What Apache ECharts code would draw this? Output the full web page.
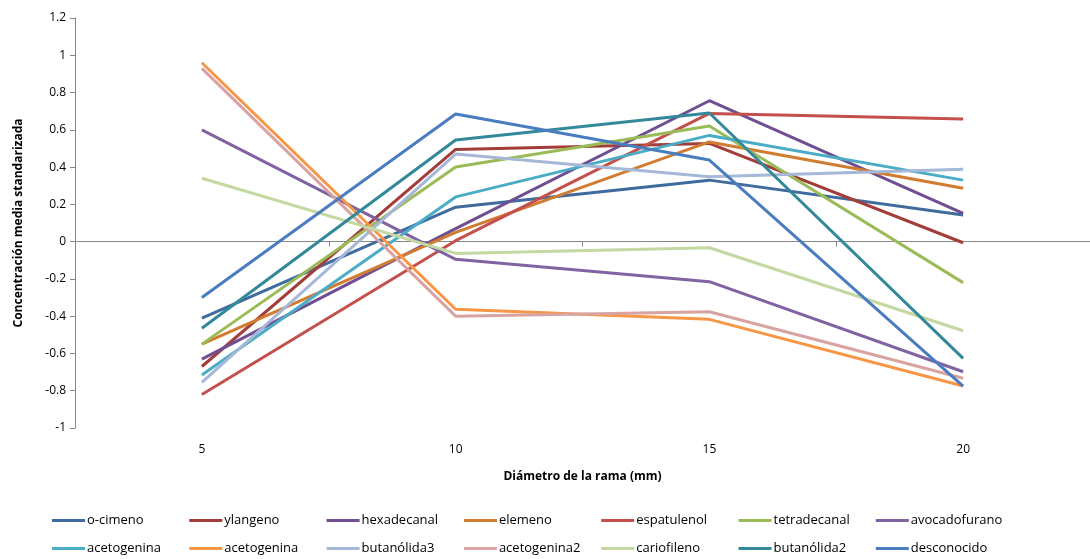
<!DOCTYPE html>
<html><head><meta charset="utf-8">
<script src="https://cdn.jsdelivr.net/npm/echarts@6/dist/echarts.min.js"></script>
<style>html,body{margin:0;padding:0;background:#fff}#c{width:1090px;height:559px}</style>
</head><body><div id="c"></div>
<script>
const categories = ['5', '10', '15', '20'];
const seriesNames = ['o-cimeno','ylangeno','hexadecanal','elemeno','espatulenol','tetradecanal','avocadofurano',
  'acetogenina','acetogenina ','butanólida3','acetogenina2','cariofileno','butanólida2','desconocido'];
const colors = ['#3F6B9E','#A33D3A','#6F4E91','#D27C32','#C4504D','#9BBB59','#8064A2',
  '#4BACC6','#F79646','#A5B8D8','#D8A3A1','#C4D8A2','#33899A','#4A7DC0'];
const oCimeno      = [-0.41, 0.185, 0.33, 0.143];
const ylangeno     = [-0.67, 0.495, 0.527, -0.006];
const hexadecanal  = [-0.63, 0.07, 0.756, 0.152];
const elemeno      = [-0.55, 0.05, 0.535, 0.286];
const espatulenol  = [-0.82, 0.005, 0.688, 0.658];
const tetradecanal = [-0.55, 0.40, 0.62, -0.22];
const avocadofurano= [0.60, -0.095, -0.215, -0.698];
const acetogenina  = [-0.716, 0.24, 0.57, 0.33];
const acetogeninaB = [0.96, -0.363, -0.417, -0.775];
const butanolida3  = [-0.755, 0.47, 0.348, 0.388];
const acetogenina2 = [0.93, -0.40, -0.376, -0.733];
const cariofileno  = [0.34, -0.063, -0.033, -0.478];
const butanolida2  = [-0.465, 0.545, 0.69, -0.626];
const desconocido  = [-0.30, 0.685, 0.438, -0.775];
const values = [oCimeno, ylangeno, hexadecanal, elemeno, espatulenol, tetradecanal, avocadofurano,
  acetogenina, acetogeninaB, butanolida3, acetogenina2, cariofileno, butanolida2, desconocido];
const yTicks = {min: -1, max: 1.2, interval: 0.2};

const font = 'Open Sans';
const chart = echarts.init(document.getElementById('c'));
const legends = seriesNames.map((n, i) => ({
  left: 52 + 137.3 * (i % 7), top: i < 7 ? 514 : 542,
  itemWidth: 33, itemHeight: 3, icon: 'rect', itemGap: 0, padding: 0,
  selectedMode: false, formatter: s => s.trim(), data: [n],
  textStyle: {fontFamily: font, fontSize: 13, color: '#000', padding: [0, 0, 0, -3]}
}));
chart.setOption({
  animation: false,
  color: colors,
  grid: {left: 75, top: 18, width: 1020, bottom: 131, containLabel: false},
  legend: legends,
  xAxis: [
    {type: 'category', data: categories, boundaryGap: true,
     axisLine: {onZero: true, lineStyle: {color: '#868686', width: 1}},
     axisTick: {show: true, length: 5, inside: false, lineStyle: {color: '#868686'}},
     axisLabel: {show: false}},
    {type: 'category', data: categories, boundaryGap: true, position: 'bottom',
     axisLine: {show: false, onZero: false}, axisTick: {show: false},
     axisLabel: {margin: 16, fontFamily: font, fontSize: 12, color: '#000'},
     name: 'Diámetro de la rama (mm)', nameLocation: 'middle', nameGap: 43,
     nameTextStyle: {fontFamily: font, fontSize: 12, fontWeight: 'bold', color: '#000'}}
  ],
  yAxis: {type: 'value', min: yTicks.min, max: yTicks.max, interval: yTicks.interval,
    splitLine: {show: false},
    axisLine: {show: true, lineStyle: {color: '#868686'}},
    axisTick: {show: true, length: 5, lineStyle: {color: '#868686'}},
    axisLabel: {fontFamily: font, fontSize: 12, color: '#000', margin: 9,
      formatter: v => String(Math.round(v * 10) / 10)},
    name: 'Concentración media standarizada', nameLocation: 'middle', nameGap: 50,
    nameTextStyle: {fontFamily: font, fontSize: 12, fontWeight: 'bold', color: '#000'}},
  series: seriesNames.map((n, i) => ({
    name: n, type: 'line', xAxisIndex: 0, data: values[i], symbol: 'none',
    lineStyle: {width: 3, color: colors[i]}, itemStyle: {color: colors[i]}
  }))
});
</script></body></html>
